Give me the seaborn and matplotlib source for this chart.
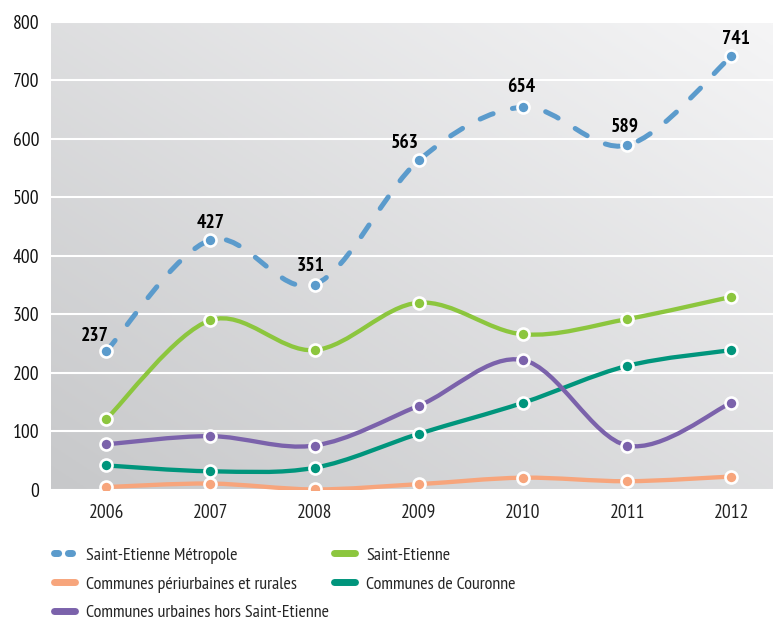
import numpy as np
import pandas as pd
import matplotlib
matplotlib.use("Agg")
import matplotlib.pyplot as plt
from matplotlib.path import Path
from matplotlib.patches import PathPatch
from matplotlib.lines import Line2D
import seaborn as sns

# data
years = [2006, 2007, 2008, 2009, 2010, 2011, 2012]
metropole = [237, 427, 351, 563, 654, 589, 741]
saint_etienne = [121, 290, 239, 320, 266, 292, 330]
periurbaines = [5, 11, 1, 10, 21, 15, 23]
couronne = [42, 32, 38, 96, 149, 212, 239]
urbaines = [78, 92, 76, 144, 222, 76, 149]

names = ["Saint-Etienne Métropole", "Saint-Etienne", "Communes périurbaines et rurales",
         "Communes de Couronne", "Communes urbaines hors Saint-Etienne"]
colors = ["#5b9bcc", "#8cc63e", "#f7a57c", "#00957c", "#7b62ab"]
series = [metropole, saint_etienne, periurbaines, couronne, urbaines]

df = pd.DataFrame({"year": years * 5,
                   "value": sum(series, []),
                   "serie": [n for n in names for _ in years]})

sns.set_theme(style="white")
plt.rcParams["font.family"] = ["PT Sans Narrow", "DejaVu Sans"]

fig = plt.figure(figsize=(7.73, 6.21), dpi=100)
ax = fig.add_axes([51 / 773, 1 - 490 / 621, 1 - 51 / 773, (490 - 21.7) / 621])

# diagonal gradient background
gx, gy = np.meshgrid(np.linspace(0, 1, 200), np.linspace(0, 1, 200))
grad = (gx + gy) / 2
cmap = matplotlib.colors.LinearSegmentedColormap.from_list("bg", ["#c7c8ca", "#f5f5f6"])
ax.imshow(grad, cmap=cmap, extent=[0, 1, 0, 1], transform=ax.transAxes,
          origin="lower", aspect="auto", zorder=0)

ax.set_xlim(2005.47, 2012.40)
ax.set_ylim(0, 800)


def smooth_path(x, y):
    # catmull-rom style bezier through the points
    x = np.asarray(x, float)
    y = np.asarray(y, float)
    px = np.concatenate([[x[0]], x, [x[-1]]])
    py = np.concatenate([[y[0]], y, [y[-1]]])
    verts = [(x[0], y[0])]
    codes = [Path.MOVETO]
    for i in range(1, len(px) - 2):
        c1 = (px[i] + (px[i + 1] - px[i - 1]) / 6, py[i] + (py[i + 1] - py[i - 1]) / 6)
        c2 = (px[i + 1] - (px[i + 2] - px[i]) / 6, py[i + 1] - (py[i + 2] - py[i]) / 6)
        verts += [c1, c2, (px[i + 1], py[i + 1])]
        codes += [Path.CURVE4] * 3
    return Path(verts, codes)


draw_order = [2, 3, 4, 1, 0]
for k in draw_order:
    vals = series[k]
    if k == 0:
        patch = PathPatch(smooth_path(years, vals), fill=False, edgecolor=colors[k],
                          lw=3.6, linestyle=(0, (2.8, 4.0)), capstyle="round", zorder=3)
    else:
        patch = PathPatch(smooth_path(years, vals), fill=False, edgecolor=colors[k],
                          lw=3.1, capstyle="round", zorder=3)
    ax.add_patch(patch)

for k in draw_order:
    sns.scatterplot(data=df[df.serie == names[k]], x="year", y="value", color=colors[k],
                    s=75, edgecolor="white", linewidth=1.9, ax=ax, zorder=4, legend=False)

# labels on the metropole series (offsets in points)
label_offsets = [(-8.3, 7.5), (0, 8.4), (-2.9, 10.1), (-10, 9.1), (-1.3, 11.2), (-1.9, 10.1), (3.5, 8.6)]
for x, v, off in zip(years, metropole, label_offsets):
    ax.annotate(str(v), (x, v), xytext=off, textcoords="offset points", ha="center",
                va="baseline", fontsize=14, fontweight="bold", color="black", zorder=5)

ax.set_yticks(range(0, 801, 100))
ax.set_xticks(years)
ax.set_xticks([y + 0.5 for y in years[:-1]], minor=True)
ax.grid(axis="y", color="white", lw=1.5, zorder=1)
ax.set_axisbelow(False)
for s in ax.spines.values():
    s.set_visible(False)
ax.tick_params(axis="x", which="major", length=0, pad=10, labelsize=14, labelcolor="#222222")
ax.tick_params(axis="x", which="minor", direction="in", length=6, width=1.5, color="white")
ax.tick_params(axis="y", length=0, pad=8.5, labelsize=14, labelcolor="#111111")
ax.set_xlabel("")
ax.set_ylabel("")

handles = [Line2D([], [], color=colors[k], lw=5, solid_capstyle="round", dash_capstyle="round",
                  linestyle=(0, (0.6, 1.4)) if k == 0 else "-") for k in range(5)]
order = [0, 2, 4, 1, 3]
fig.legend([handles[i] for i in order], [names[i] for i in order], ncol=2,
           loc="upper left", bbox_to_anchor=(54 / 773, 1 - 547 / 621),
           frameon=False, fontsize=13, handlelength=1.15, handletextpad=0.62,
           columnspacing=0.3, labelspacing=0.68, borderpad=0, borderaxespad=0)

fig.savefig("out.png", dpi=100)
